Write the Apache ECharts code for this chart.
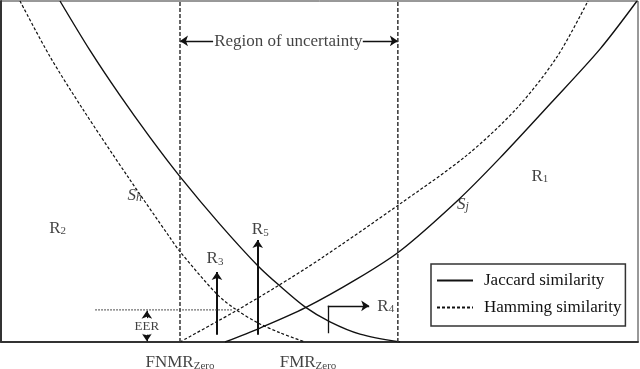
<!DOCTYPE html>
<html>
<head>
<meta charset="utf-8">
<script src="https://cdn.jsdelivr.net/npm/echarts@6/dist/echarts.min.js"></script>
<style>
  html, body { margin: 0; padding: 0; background: #fff; }
  #chart { width: 640px; height: 369px; }
</style>
</head>
<body>
<div id="chart"></div>
<script>
// curves (x = threshold, y = error rate, both 0..100)
let jaccardFnmr = [[9.26,100],[13.97,85.5],[18.68,72.3],[23.39,60.0],[28.1,48.5],[34.38,34.5],[40.35,22.3],[43.8,16.4],[47.72,10.3],[51.65,5.9],[56.36,2.3],[62.64,0]];
let jaccardFmr = [[35.17,0],[40.66,4.1],[47.72,10.0],[55.89,18.5],[62.64,26.7],[71.74,41.6],[78.34,54.0],[86.19,69.8],[94.03,85.9],[99.84,100]];
let hammingFnmr = [[2.98,100],[7.69,83.7],[12.87,68.2],[19.94,48.4],[26.53,30.6],[28.1,26.5],[33.91,14.0],[37.05,9.3],[40.35,5.6],[43.8,2.7],[47.72,0]];
let hammingFmr = [[28.1,0],[33.91,6.0],[37.05,9.3],[43.33,16.3],[50.08,24.3],[62.64,40.5],[73.16,54.8],[81.0,68.6],[87.28,83.6],[92.15,100]];

let fnmrZero = 28.1;
let fmrZero = 62.3;
let eer = 9.4;
let eerStart = 14.8;   // dotted EER line starts here
let eerEnd = 36.4;

// arrows
let r3Arrow = [[33.9,2.1],[33.9,20.5]];
let r5Arrow = [[40.3,2.1],[40.3,29.9]];
let r4Stem = [[51.3,2.6],[51.3,10.6]];
let r4Arrow = [[51.3,10.6],[57.8,10.6]];
let eerUp = [[22.9,7.0],[22.9,9.2]];
let eerDown = [[22.9,2.2],[22.9,0.2]];
let regionLeft = [[33.3,88.3],[fnmrZero,88.3]];
let regionRight = [[56.8,88.3],[fmrZero,88.3]];

// text labels [x, y, rich text, knock out the curve behind it]
let labels = [
  [84.6, 48.7, '{m|R}{s|1}', false],
  [8.9, 33.4, '{m|R}{s|2}', false],
  [33.6, 24.6, '{m|R}{s|3}', false],
  [40.7, 33.1, '{m|R}{s|5}', false],
  [60.4, 10.6, '{m|R}{s|4}', false],
  [21.0, 43.1, '{i|S}{is|h}', true],
  [72.5, 40.5, '{i|S}{is|j}', true],
  [22.9, 4.4, '{e|EER}', false],
  [45.1, 88.3, '{m|Region of uncertainty}', false],
  [28.1, -6.0, '{m|FNMR}{s|Zero}', false],
  [48.2, -6.0, '{m|FMR}{s|Zero}', false]
];

let legendNames = ['Jaccard similarity', 'Hamming similarity'];

let serif = 'Liberation Serif';
let ink = '#111';

let myChart = echarts.init(document.getElementById('chart'), null, {renderer: 'canvas'});

function curve(name, data, dashed) {
  return {
    name: name,
    type: 'line',
    data: data,
    smooth: 0.3,
    symbol: 'none',
    silent: true,
    itemStyle: {color: ink},
    lineStyle: {color: ink, width: dashed ? 1.2 : 1.4, type: dashed ? [3, 2] : 'solid'}
  };
}

function arrow(coords, width, head) {
  return {
    type: 'lines',
    coordinateSystem: 'cartesian2d',
    symbol: head ? ['none', 'arrow'] : ['none', 'none'],
    symbolSize: 8,
    silent: true,
    lineStyle: {color: ink, width: width, opacity: 1, curveness: 0},
    data: [{coords: coords}]
  };
}

let option = {
  animation: false,
  grid: {left: 1, right: 2, top: 1, bottom: 27, show: true, borderColor: '#333', borderWidth: 1},
  xAxis: {
    type: 'value', min: 0, max: 100,
    axisLine: {show: true, onZero: false, lineStyle: {color: '#333', width: 2}},
    axisTick: {show: false}, axisLabel: {show: false}, splitLine: {show: false}
  },
  yAxis: {
    type: 'value', min: 0, max: 100,
    axisLine: {show: true, onZero: false, lineStyle: {color: '#333', width: 2}},
    axisTick: {show: false}, axisLabel: {show: false}, splitLine: {show: false}
  },
  legend: {
    data: legendNames,
    orient: 'vertical',
    left: 431, top: 264,
    padding: [8, 4, 10, 5],
    itemGap: 10,
    itemWidth: 36, itemHeight: 14,
    backgroundColor: '#fff',
    borderColor: '#333', borderWidth: 1.5, borderRadius: 0,
    selectedMode: false,
    itemStyle: {opacity: 0},
    textStyle: {fontFamily: serif, fontSize: 17, color: ink, padding: [0, 0, 0, 6]}
  },
  series: [
    curve('Jaccard similarity', jaccardFnmr, false),
    curve('Jaccard similarity', jaccardFmr, false),
    curve('Hamming similarity', hammingFnmr, true),
    curve('Hamming similarity', hammingFmr, true),
    {
      name: 'fnmrZero', type: 'line', symbol: 'none', silent: true,
      data: [[fnmrZero, 0], [fnmrZero, 100]],
      lineStyle: {color: '#333', width: 1.5, type: [4, 2]}
    },
    {
      name: 'fmrZero', type: 'line', symbol: 'none', silent: true,
      data: [[fmrZero, 0], [fmrZero, 100]],
      lineStyle: {color: '#333', width: 1.5, type: [4, 2]}
    },
    {
      name: 'eer', type: 'line', symbol: 'none', silent: true,
      data: [[eerStart, eer], [eerEnd, eer]],
      lineStyle: {color: '#444', width: 1.2, type: [1.5, 1.5]}
    },
    arrow(r3Arrow, 2, true),
    arrow(r5Arrow, 2, true),
    arrow(r4Stem, 1.3, false),
    arrow(r4Arrow, 1.3, true),
    arrow(eerUp, 1, true),
    arrow(eerDown, 1, true),
    arrow(regionLeft, 1.3, true),
    arrow(regionRight, 1.3, true),
    {
      name: 'labels', type: 'scatter', symbolSize: 0, silent: true, clip: false,
      data: labels.map(function (l) {
        let d = {value: [l[0], l[1]], text: l[2]};
        if (l[3]) d.label = {backgroundColor: '#fff', padding: [1, 2]};
        return d;
      }),
      label: {
        show: true, position: 'inside',
        formatter: function (p) { return p.data.text; },
        rich: {
          m: {fontFamily: serif, fontSize: 17, color: ink, verticalAlign: 'bottom', lineHeight: 18},
          s: {fontFamily: serif, fontSize: 11, color: ink, verticalAlign: 'bottom', lineHeight: 12},
          i: {fontFamily: serif, fontStyle: 'italic', fontSize: 17, color: ink, verticalAlign: 'bottom', lineHeight: 18},
          is: {fontFamily: serif, fontStyle: 'italic', fontSize: 12, color: ink, verticalAlign: 'bottom', lineHeight: 12},
          e: {fontFamily: serif, fontSize: 13, color: ink, backgroundColor: '#fff', padding: [1, 1]}
        }
      }
    }
  ]
};
myChart.setOption(option);
</script>
</body>
</html>
